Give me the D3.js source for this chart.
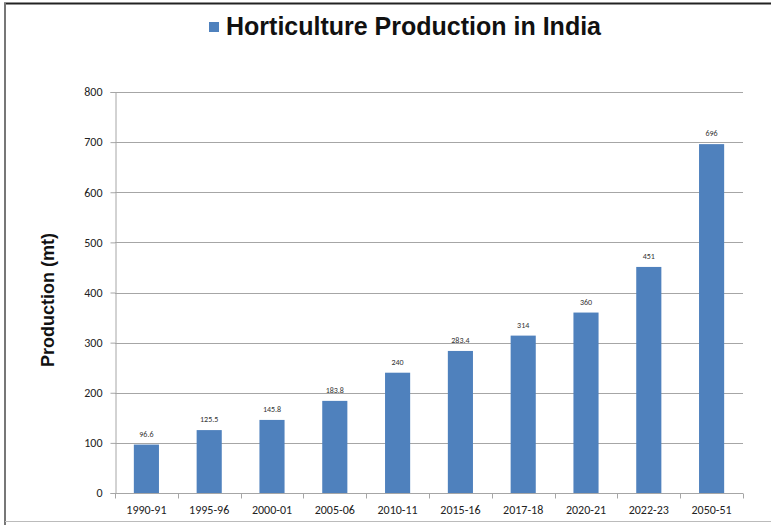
<!DOCTYPE html>
<html><head><meta charset="utf-8">
<script src="https://cdn.jsdelivr.net/npm/d3@7"></script>
<style>html,body{margin:0;padding:0;background:#fff;}svg{display:block;}</style>
</head><body>
<script>
const categories = ["1990-91","1995-96","2000-01","2005-06","2010-11","2015-16","2017-18","2020-21","2022-23","2050-51"];
const production = [96.6,125.5,145.8,183.8,240,283.4,314,360,451,696];
const valueLabels = ["96.6","125.5","145.8","183.8","240","283.4","314","360","451","696"];
const yTicks = [0,100,200,300,400,500,600,700,800];
const title = "Horticulture Production in India";
const yTitle = "Production (mt)";

(function () {
const W = 771, H = 525;
const svg = d3.select("body").append("svg").attr("width", W).attr("height", H);

// frame
svg.append("line").attr("x1",4).attr("x2",W).attr("y1",3.5).attr("y2",3.5).attr("stroke","#222").attr("stroke-width",2);
svg.append("line").attr("x1",5).attr("x2",5).attr("y1",3).attr("y2",H).attr("stroke","#777").attr("stroke-width",2);
svg.append("line").attr("x1",5).attr("x2",W).attr("y1",521.5).attr("y2",521.5).attr("stroke","#bbb").attr("stroke-width",1);

const pL = 115, pR = 743, pT = 92, pB = 493;
const x = d3.scaleBand().domain(categories).range([pL, pR]).paddingInner(0.6).paddingOuter(0.3);
const y = d3.scaleLinear().domain([0, 800]).range([pB, pT]);

// gridlines
svg.append("g").selectAll("line").data(yTicks.filter(d => d > 0)).join("line")
  .attr("x1", pL).attr("x2", pR)
  .attr("y1", d => Math.round(y(d)) + 0.5).attr("y2", d => Math.round(y(d)) + 0.5)
  .attr("stroke", "#a6a6a6").attr("stroke-width", 1);

// y axis
const yAxis = svg.append("g").attr("transform", `translate(${pL + 0.5},0)`)
  .call(d3.axisLeft(y).tickValues(yTicks).tickSize(5).tickPadding(8).tickFormat(d3.format("d")));
yAxis.select(".domain").attr("stroke", "#a6a6a6");
yAxis.selectAll(".tick line").attr("stroke", "#a6a6a6");
yAxis.selectAll("text").attr("font-family", "Calibri, Carlito, 'Liberation Sans', Arial, sans-serif").attr("font-size", 12).attr("fill", "#222");

// bars
svg.append("g").selectAll("rect").data(production).join("rect")
  .attr("x", (d, i) => x(categories[i]))
  .attr("width", x.bandwidth())
  .attr("y", d => y(d))
  .attr("height", d => pB - y(d))
  .attr("fill", "#4f81bd");

// value labels
svg.append("g").selectAll("text").data(production).join("text")
  .attr("x", (d, i) => x(categories[i]) + x.bandwidth() / 2)
  .attr("y", d => y(d) - 8)
  .attr("text-anchor", "middle")
  .attr("font-family", "Calibri, Carlito, 'Liberation Sans', Arial, sans-serif")
  .attr("font-size", 8)
  .attr("fill", "#333")
  .text((d, i) => valueLabels[i]);

// x axis
const step = (pR - pL) / categories.length;
const xAxis = svg.append("g").attr("transform", `translate(0,${pB + 0.5})`);
xAxis.append("line").attr("x1", pL).attr("x2", pR).attr("stroke", "#a6a6a6");
xAxis.selectAll(".tk").data(d3.range(categories.length + 1)).join("line")
  .attr("class", "tk")
  .attr("x1", i => Math.round(pL + i * step) + 0.5).attr("x2", i => Math.round(pL + i * step) + 0.5)
  .attr("y1", 0).attr("y2", 5).attr("stroke", "#a6a6a6");
xAxis.selectAll(".lbl").data(categories).join("text")
  .attr("class", "lbl")
  .attr("x", d => x(d) + x.bandwidth() / 2)
  .attr("y", 20)
  .attr("text-anchor", "middle")
  .attr("font-family", "Calibri, Carlito, 'Liberation Sans', Arial, sans-serif")
  .attr("font-size", 12)
  .attr("fill", "#222")
  .text(d => d);

// y title
svg.append("text")
  .attr("transform", "translate(54,300) rotate(-90)")
  .attr("text-anchor", "middle")
  .attr("font-family", "'Liberation Sans', Arial, sans-serif")
  .attr("font-weight", "bold").attr("font-size", 18).attr("fill", "#111")
  .text(yTitle);

// title with legend marker
svg.append("rect").attr("x", 209).attr("y", 22).attr("width", 10).attr("height", 10).attr("fill", "#4f81bd");
svg.append("text")
  .attr("x", 226).attr("y", 35)
  .attr("font-family", "'Liberation Sans', Arial, sans-serif")
  .attr("font-weight", "bold").attr("font-size", 25).attr("fill", "#111")
  .text(title);
})();
</script>
</body></html>
